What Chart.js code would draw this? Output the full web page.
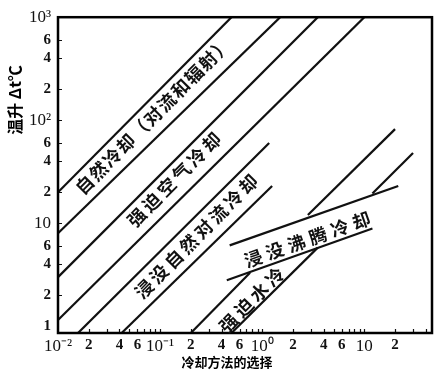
<!DOCTYPE html>
<html><head><meta charset="utf-8">
<script src="https://cdn.jsdelivr.net/npm/chart.js@4/dist/chart.umd.min.js"></script>
<style>html,body{margin:0;padding:0;background:#fff;}canvas{display:block;}</style>
</head><body>
<canvas id="c" width="436" height="382"></canvas>
<script>
// ---- data (log-log chart) ----
const lineNames = ['natUpper','natLower','airUpper','airLower','immUpper','immLower',
                   'waterUpperA','waterUpperB','waterLowerA','waterLowerB','boilUpper','boilLower'];
const lineX = [
  [0.01, 0.5], [0.01, 1.5], [0.01, 3.5], [0.01, 10],
  [0.0157, 1.17], [0.042, 1.25],
  [0.2, 0.76], [2.8, 20],
  [0.5, 3.5], [12, 30],
  [0.48, 21.5], [0.45, 12]
];
const lineY = [
  [20, 1000], [8, 1000], [3, 1000], [1.15, 1000],
  [0.86, 60], [0.86, 23],
  [0.86, 3.3], [12, 82],
  [0.86, 5.8], [19.4, 48],
  [6.1, 23], [2.8, 8.9]
];
const xTickValues = [0.01,0.02,0.04,0.06,0.1,0.2,0.4,0.6,1,2,4,6,10,20];
const xTickLabels = ['10⁻²','2','4','6','10⁻¹','2','4','6','10⁰','2','4','6','10','2'];
const yTickValues = [1,2,4,6,10,20,40,60,100,200,400,600,1000];
const yTickLabels = ['1','2','4','6','10','2','4','6','10²','2','4','6','10³'];
const xMinorTicks = [0.02,0.03,0.04,0.05,0.06,0.07,0.08,0.09,0.1,0.2,0.3,0.4,0.5,0.6,0.7,0.8,0.9,1,2,3,4,5,6,7,8,9,10,20,30,40];
const yMinorTicks = [2,4,6,10,20,40,60,100,200,400,600];
const bandTexts = ['自然冷却（对流和辐射）','强迫空气冷却','浸没自然对流冷却','强迫水冷','浸没沸腾冷却'];
const xTitle = '冷却方法的选择';
const yTitle = '温升 Δt℃';

// ---- annotation placement (data coords of text centre, direction line, char step) ----
const bandPlacement = [
  {x:0.0853, y:110, dir:0, step:19.4},
  {x:0.137,  y:26.5, dir:0, step:21.2},
  {x:0.2254, y:7.43, dir:0, step:21.1},
  {x:0.789,  y:1.805, dir:0, step:21.7},
  {x:2.76,   y:6.95, dir:10, step:22.9}
];

const datasets = lineNames.map((n,i)=>({
  label:n,
  data: lineX[i].map((x,j)=>({x:x, y:lineY[i][j]})),
  borderColor:'#111', borderWidth:2.2, pointRadius:0, showLine:true, fill:false, tension:0
}));

const decor = {
  id:'decor',
  afterDatasetsDraw(chart){
    const ctx = chart.ctx, xs = chart.scales.x, ys = chart.scales.y, a = chart.chartArea;
    ctx.save();
    ctx.strokeStyle = '#111'; ctx.lineWidth = 1.2;
    ctx.beginPath();
    xMinorTicks.forEach(v=>{ const px = Math.round(xs.getPixelForValue(v))+0.5; ctx.moveTo(px,a.bottom); ctx.lineTo(px,a.bottom-4); });
    yMinorTicks.forEach(v=>{ const py = Math.round(ys.getPixelForValue(v))+0.5; ctx.moveTo(a.left,py); ctx.lineTo(a.left+4,py); });
    ctx.stroke();
    ctx.lineWidth = 2.5; ctx.strokeStyle = '#000';
    ctx.strokeRect(a.left, a.top, a.right-a.left, a.bottom-a.top);
    ctx.fillStyle = '#111';
    ctx.font = 'bold 18px "Noto Sans CJK SC"';
    ctx.textAlign = 'center'; ctx.textBaseline = 'middle';
    bandTexts.forEach((t,i)=>{
      const p = bandPlacement[i];
      const d = lineX[p.dir], e = lineY[p.dir];
      const x1 = xs.getPixelForValue(d[0]), y1 = ys.getPixelForValue(e[0]);
      const x2 = xs.getPixelForValue(d[1]), y2 = ys.getPixelForValue(e[1]);
      const ang = Math.atan2(y2-y1, x2-x1);
      const cx = xs.getPixelForValue(p.x), cy = ys.getPixelForValue(p.y);
      const chars = Array.from(t), n = chars.length;
      chars.forEach((ch,k)=>{
        const off = (k-(n-1)/2)*p.step;
        ctx.save();
        ctx.translate(cx+off*Math.cos(ang), cy+off*Math.sin(ang));
        ctx.rotate(ang);
        ctx.fillText(ch,0,0);
        ctx.restore();
      });
    });
    ctx.font = 'bold 13px "Noto Sans CJK SC"';
    ctx.fillStyle = '#000';
    ctx.fillText(xTitle, 227, 362);
    ctx.save();
    ctx.translate(15,100); ctx.rotate(-Math.PI/2);
    ctx.font = 'bold 16px "Noto Sans CJK SC"';
    ctx.fillText(yTitle,0,0);
    ctx.restore();
    ctx.restore();
  }
};

const tickFont = (labels)=> (c)=>{
  const l = labels[c.index] || '';
  return l.startsWith('10') ? {family:'"Liberation Serif", serif', size:17} : {family:'"Liberation Serif", serif', size:15, weight:'bold'};
};

new Chart(document.getElementById('c'), {
  type:'scatter',
  data:{datasets},
  plugins:[decor],
  options:{
    responsive:false, animation:false, devicePixelRatio:1,
    layout:{padding:{left:0,right:4,top:16,bottom:0}},
    plugins:{legend:{display:false}, tooltip:{enabled:false}},
    scales:{
      x:{type:'logarithmic', min:0.01, max:46,
        afterBuildTicks:(s)=>{ s.ticks = xTickValues.map(v=>({value:v})); },
        afterFit:(s)=>{ s.height = 49; },
        grid:{display:false, drawTicks:false},
        border:{display:false},
        ticks:{autoSkip:false, maxRotation:0, minRotation:0, padding:3, color:'#111',
          font: tickFont(xTickLabels),
          callback:(v,i)=>xTickLabels[i]}
      },
      y:{type:'logarithmic', min:0.86, max:1000,
        afterBuildTicks:(s)=>{ s.ticks = yTickValues.map(v=>({value:v})); },
        afterFit:(s)=>{ s.width = 58; },
        grid:{display:false, drawTicks:false},
        border:{display:false},
        ticks:{autoSkip:false, padding:7, color:'#111',
          font: tickFont(yTickLabels),
          callback:(v,i)=>yTickLabels[i]}
      }
    }
  }
});
</script>
</body></html>
